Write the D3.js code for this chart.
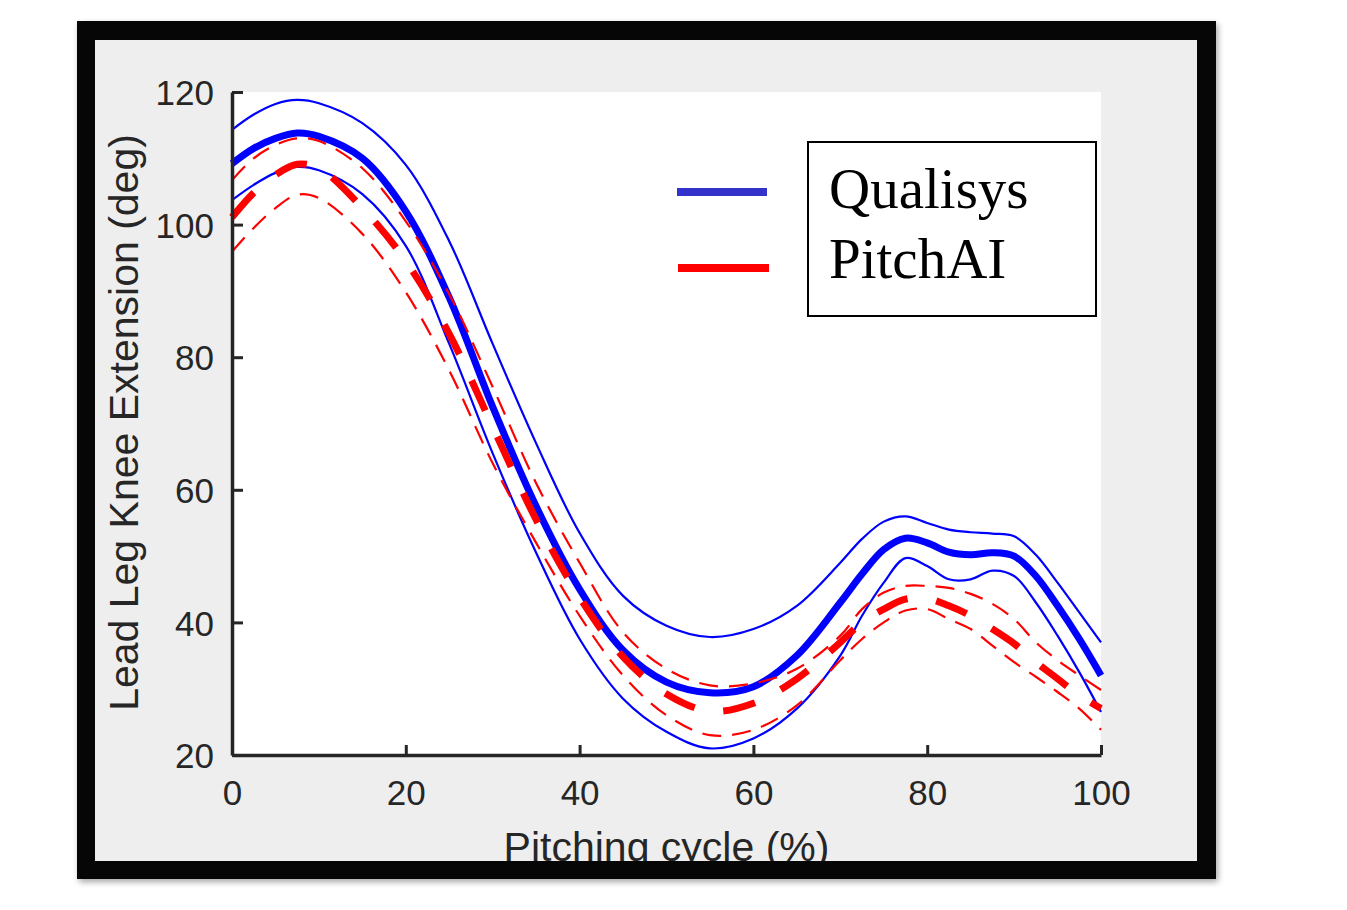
<!DOCTYPE html>
<html>
<head>
<meta charset="utf-8">
<script src="https://cdn.jsdelivr.net/npm/d3@7"></script>
<style>
  html, body { margin: 0; padding: 0; background: #ffffff; }
  svg { display: block; }
</style>
</head>
<body>
<script>
// ---- data ----
const cyclePct = [0, 2.5, 5, 7.5, 10, 15, 20, 25, 30, 35, 40, 45, 50, 55, 60, 65, 70, 72.5, 75, 77.5, 80, 82.5, 85, 87.5, 90, 92.5, 95, 97.5, 100];

const qualisysMean  = [109.2, 111.5, 113.0, 113.8, 113.3, 110.0, 102.0, 89.0, 72.5, 57.5, 45.0, 35.8, 31.0, 29.4, 30.3, 35.0, 43.0, 47.3, 51.0, 52.7, 52.0, 50.6, 50.2, 50.5, 50.0, 47.0, 42.5, 37.5, 32.0];
const qualisysUpper = [114.3, 116.6, 118.2, 118.8, 118.3, 115.3, 109.0, 97.5, 82.0, 67.0, 53.5, 44.0, 39.5, 37.8, 39.0, 42.5, 49.0, 52.6, 55.2, 56.0, 55.0, 54.0, 53.6, 53.4, 53.0, 50.2, 46.0, 41.5, 37.0];
const qualisysLower = [103.7, 106.0, 107.8, 108.7, 108.2, 104.6, 96.8, 82.0, 65.5, 50.5, 37.5, 28.5, 23.5, 21.0, 22.5, 27.0, 35.0, 41.0, 46.0, 49.7, 48.5, 46.5, 46.5, 47.8, 47.0, 43.0, 38.0, 32.5, 26.5];

const pitchaiMean  = [101.1, 104.8, 107.5, 109.1, 108.5, 102.5, 94.5, 83.5, 69.5, 55.5, 43.8, 34.8, 29.2, 26.6, 27.8, 31.5, 37.0, 40.0, 42.0, 43.5, 43.6, 42.5, 41.0, 39.0, 36.8, 34.0, 31.5, 29.0, 27.0];
const pitchaiUpper = [106.7, 110.0, 112.0, 113.0, 112.6, 108.5, 100.5, 89.5, 75.5, 61.0, 49.0, 38.5, 33.0, 30.5, 30.8, 33.0, 38.0, 42.0, 44.5, 45.5, 45.5, 45.2, 44.3, 42.8, 40.5, 37.0, 34.3, 32.0, 29.8];
const pitchaiLower = [95.9, 99.5, 102.5, 104.5, 104.0, 98.6, 89.8, 78.0, 64.0, 52.0, 41.0, 32.0, 26.0, 23.0, 23.8, 27.5, 34.3, 37.5, 40.0, 41.8, 42.0, 40.5, 39.0, 36.5, 34.0, 31.8, 29.5, 27.0, 23.8];

const xTickValues = [0, 20, 40, 60, 80, 100];
const yTickValues = [20, 40, 60, 80, 100, 120];
const legendLabels = ["Qualisys", "PitchAI"];
const xLabel = "Pitching cycle (%)";
const yLabel = "Lead Leg Knee Extension (deg)";

// ---- layout ----
const W = 1347, H = 910;
const plot = { left: 232, right: 1101, top: 92, bottom: 755 };
const axisColor = "#262626";

const svg = d3.select("body").append("svg")
  .attr("width", W).attr("height", H);

const defs = svg.append("defs");
const shadow = defs.append("filter").attr("id", "shadow")
  .attr("x", "-5%").attr("y", "-5%").attr("width", "110%").attr("height", "110%");
shadow.append("feGaussianBlur").attr("in", "SourceAlpha").attr("stdDeviation", 3);
shadow.append("feOffset").attr("dx", 2).attr("dy", 3).attr("result", "ob");
shadow.append("feComponentTransfer").append("feFuncA").attr("type", "linear").attr("slope", 0.35);
const merge = shadow.append("feMerge");
merge.append("feMergeNode");
merge.append("feMergeNode").attr("in", "SourceGraphic");

// frame background (gray figure area)
svg.append("rect").attr("x", 77).attr("y", 21).attr("width", 1139).attr("height", 858)
  .attr("fill", "#eeeeee").attr("filter", "url(#shadow)");

// white axes area
svg.append("rect")
  .attr("x", plot.left).attr("y", plot.top)
  .attr("width", plot.right - plot.left).attr("height", plot.bottom - plot.top)
  .attr("fill", "#ffffff");

const x = d3.scaleLinear().domain([0, 100]).range([plot.left, plot.right]);
const y = d3.scaleLinear().domain([20, 120]).range([plot.bottom, plot.top]);

const line = d3.line()
  .x((d, i) => x(cyclePct[i]))
  .y(d => y(d))
  .curve(d3.curveCatmullRom.alpha(0.5));

const series = [
  { data: qualisysUpper, color: "#0000ff", width: 2.2, dash: null },
  { data: qualisysLower, color: "#0000ff", width: 2.2, dash: null },
  { data: qualisysMean,  color: "#0000ff", width: 7,   dash: null },
  { data: pitchaiUpper,  color: "#ff0000", width: 2.2, dash: "19,11" },
  { data: pitchaiLower,  color: "#ff0000", width: 2.2, dash: "19,11" },
  { data: pitchaiMean,   color: "#ff0000", width: 7,   dash: "33,29" }
];

const gLines = svg.append("g");
series.forEach(s => {
  gLines.append("path")
    .datum(s.data)
    .attr("d", line)
    .attr("fill", "none")
    .attr("stroke", s.color)
    .attr("stroke-width", s.width)
    .attr("stroke-dasharray", s.dash)
    .attr("stroke-linejoin", "round");
});

// axes
const xAxis = d3.axisBottom(x).tickValues(xTickValues).tickSize(-10).tickPadding(16).tickSizeOuter(0);
const yAxis = d3.axisLeft(y).tickValues(yTickValues).tickSize(-11).tickPadding(18).tickSizeOuter(0);

const gx = svg.append("g").attr("transform", `translate(0,${plot.bottom})`).call(xAxis);
const gy = svg.append("g").attr("transform", `translate(${plot.left},0)`).call(yAxis);

[gx, gy].forEach(g => {
  g.select(".domain").attr("stroke", axisColor).attr("stroke-width", 3.5);
  g.selectAll(".tick line").attr("stroke", axisColor).attr("stroke-width", 3);
  g.selectAll(".tick text")
    .attr("fill", axisColor)
    .style("font-family", "Arial, 'Liberation Sans', Helvetica, sans-serif")
    .style("font-size", "35px");
});
gx.selectAll(".tick text").attr("dy", "0.71em").attr("y", 25);
gy.selectAll(".tick text").attr("dy", "0.36em").attr("x", -18);

// axis labels
svg.append("text")
  .attr("x", (plot.left + plot.right) / 2)
  .attr("y", 861)
  .attr("text-anchor", "middle")
  .attr("fill", axisColor)
  .style("font-family", "Arial, 'Liberation Sans', Helvetica, sans-serif")
  .style("font-size", "41px")
  .text(xLabel);

svg.append("text")
  .attr("transform", `translate(138,${(plot.top + plot.bottom) / 2 - 1}) rotate(-90)`)
  .attr("text-anchor", "middle")
  .attr("fill", axisColor)
  .style("font-family", "Arial, 'Liberation Sans', Helvetica, sans-serif")
  .style("font-size", "41px")
  .text(yLabel);

// legend
svg.append("line").attr("x1", 677).attr("x2", 767).attr("y1", 192).attr("y2", 192)
  .attr("stroke", "#3333cc").attr("stroke-width", 8);
svg.append("line").attr("x1", 678).attr("x2", 769).attr("y1", 268).attr("y2", 268)
  .attr("stroke", "#ff0000").attr("stroke-width", 8);
svg.append("rect").attr("x", 808).attr("y", 142).attr("width", 288).attr("height", 174)
  .attr("fill", "#ffffff").attr("stroke", "#000000").attr("stroke-width", 2);
legendLabels.forEach((t, i) => {
  svg.append("text")
    .attr("x", 829).attr("y", 208 + i * 70)
    .attr("fill", "#000000")
    .style("font-family", "'Liberation Serif', 'Times New Roman', serif")
    .style("font-size", "57px")
    .text(t);
});

// black frame drawn on top (clips the x label)
svg.append("path")
  .attr("fill-rule", "evenodd")
  .attr("fill", "#060606")
  .attr("d", `M77,21 H1216 V879 H77 Z M95,40 V861 H1197 V40 Z`);
</script>
</body>
</html>
